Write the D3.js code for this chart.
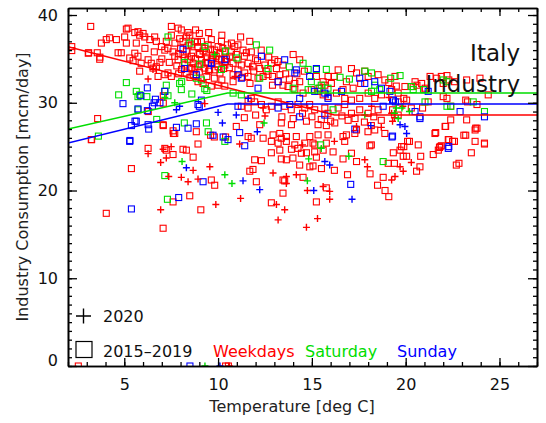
<!DOCTYPE html>
<html>
<head>
<meta charset="utf-8">
<script src="https://cdn.jsdelivr.net/npm/d3@7"></script>
<style>
	body { margin: 0; background: #fff; }
	text { font-family: "DejaVu Sans", sans-serif; }
</style>
</head>
<body>
<script>
// [temperature degC, consumption mcm/day]
var weekdayOld = [
	[3.21,38.7],[2.2,36.4],[2.2,35.95],[3.1,35.7],[3.56,35.7],[3.69,34.96],[3.78,36.8],[4.04,37.2],[4.22,37.4],[4.58,37.2],[5.02,37.5],[5.11,38.4],[5.2,38.5],[4.67,35.7],[4.84,35.7],[5.11,36.8],[5.29,35.1],[5.47,34.8],[5.56,35.65],[5.73,35.3],[5.56,38.0],[5.73,38.1],[5.82,37.7],[6.0,37.9],[5.64,36.8],[6.09,37.5],[6.36,37.2],[6.62,37.5],[6.71,37.0],[5.82,33.6],[6.27,34.9],[6.44,34.5],[6.53,33.95],[6.71,34.1],[6.8,33.0],[7.16,33.2],[7.33,33.4],[7.51,33.0],[6.98,36.4],[7.16,36.0],[7.33,36.2],[7.24,37.0],[7.51,37.7],[7.51,38.7],[7.87,38.5],[8.04,38.3],[3.08,35.65],[3.7,35.2],
	[7.69,35.3],[7.87,34.9],[8.13,35.5],[8.22,34.3],[8.4,34.9],[8.58,35.3],[8.67,34.5],[8.76,33.75],[8.93,34.1],[9.11,34.9],[9.29,33.95],[9.47,34.5],[9.64,34.9],[9.82,33.75],[10.0,34.1],[10.18,34.9],[10.36,34.3],[7.8,34.2],[8.5,33.9],[9.0,35.6],[9.4,35.2],[9.9,35.3],[10.3,33.9],[8.05,33.8],[9.55,33.8],[10.45,35.0],
	[7.6,35.8],[7.9,35.6],[8.2,35.1],[8.4,36.5],[8.6,34.0],[8.8,35.0],[8.9,36.9],[9.1,34.4],[9.2,35.9],[9.35,34.6],[9.5,33.6],[9.6,36.1],[9.7,35.0],[9.9,34.4],[10.05,35.0],[10.1,33.4],[10.25,36.2],[10.4,34.7],[10.5,36.6],[8.3,33.4],[8.7,33.2],[9.0,33.5],[9.4,33.0],[9.8,32.8],[10.2,32.6],[7.4,34.6],[7.0,35.0],[6.6,35.8],[6.1,36.2],[5.9,34.5],[6.9,34.6],[10.6,34.0],[10.8,32.4],
	[7.95,37.3],[8.13,37.0],[8.31,37.5],[8.49,37.7],[8.58,36.6],[8.76,37.0],[8.93,36.4],[9.11,37.0],[9.29,36.2],[9.47,36.6],[9.64,37.2],[9.82,36.0],[10.0,36.4],[10.18,37.0],[10.36,35.8],[8.31,35.9],[8.67,35.7],[9.02,35.5],[9.38,35.7],[9.73,35.4],[10.09,35.6],[8.0,36.2],[8.4,38.0],[9.0,37.9],[9.5,38.0],[10.2,37.7],[8.8,38.3],[7.7,36.8],
	[8.93,32.4],[9.2,32.2],[9.64,31.9],[10.0,32.0],[10.36,31.9],[8.5,32.9],[7.9,33.3],
	[3.58,28.2],[3.26,25.8],[7.08,27.4],[7.62,26.5],[6.28,29.0],[7.08,29.95],[7.08,30.8],
	[10.71,36.8],[10.89,36.4],[11.06,36.6],[10.71,35.8],[10.97,35.5],[10.62,35.3],[11.69,37.0],[11.33,36.0],[11.51,35.7],[11.77,35.8],[11.06,34.9],[10.8,34.5],[11.24,34.3],[11.6,34.5],[11.86,34.1],[12.22,33.9],[12.49,34.3],[12.84,34.5],[13.02,34.9],[13.2,34.7],[13.46,34.3],[13.11,33.9],[11.06,33.75],[11.42,33.4],[11.6,33.0],[12.13,32.8],[12.66,33.2],[12.57,33.6],[14.0,35.5],[14.35,34.9],[13.2,32.4],[13.46,32.0],[13.73,31.85],[14.09,32.2],[14.35,32.4],[15.24,33.0],[15.6,32.4],[15.86,33.0],[15.69,32.0],[16.04,32.2],[15.42,31.66],[16.4,33.75],[16.84,32.4],[17.11,33.9],[17.38,33.4],[17.82,33.6],[18.0,33.0],[18.53,33.2],[18.89,32.6],[17.2,31.66],[16.66,31.5],
	[11.4,35.3],[11.9,33.6],[12.1,34.8],[12.4,33.0],[12.7,35.2],[11.7,32.2],[12.9,32.0],[13.3,33.2],[13.8,32.7],[14.2,33.3],
	[14.09,31.5],[14.53,31.1],[14.97,31.5],[15.33,31.3],[15.6,30.9],[15.86,30.7],[16.31,31.1],[16.75,30.5],[17.11,30.3],[17.55,30.5],[18.0,31.1],[18.35,30.5],[18.71,30.9],
	[11.6,30.3],[11.77,30.5],[11.95,30.1],[11.24,29.6],[11.6,29.4],[12.31,29.8],[12.57,29.2],[12.84,29.6],[13.2,30.1],[13.55,29.6],[13.9,29.2],[14.26,29.8],[14.62,29.4],[14.88,29.8],[15.15,29.2],[15.69,29.4],[15.86,28.8],[16.4,29.4],[16.75,29.8],[17.11,28.8],[17.55,29.2],[18.0,28.8],[18.53,29.2],
	[13.4,28.4],[14.0,28.2],[14.5,28.8],[15.0,28.4],[15.5,28.1],[16.0,27.9],[16.6,28.5],[17.3,28.2],[17.8,27.8],[18.3,28.4],[18.7,28.0],[12.0,28.6],[11.4,28.3],
	[11.2,37.5],[12.0,35.0],[12.3,36.0],[13.6,33.3],[12.9,33.0],[14.6,33.6],[16.2,33.0],[17.6,32.2],[11.3,32.9],[10.8,33.2],
	[19.43,33.0],[19.25,31.5],[19.6,31.1],[19.96,31.85],[20.4,31.85],[20.5,32.4],[20.85,32.2],[21.03,31.5],[21.3,33.0],[21.65,32.8],[21.9,33.0],[22.2,33.1],[22.3,32.6],[22.6,32.4],[23.25,32.6],[23.96,32.8],[24.4,30.9],[23.3,30.1],[23.8,29.8],[22.0,30.7],[22.2,30.5],[22.4,29.6],[19.9,30.5],[20.05,30.3],[19.6,30.1],[20.3,29.4],[20.9,29.4],[19.3,29.2],[19.6,28.6],[21.56,26.5],[22.1,27.3],[23.25,28.05],[23.8,27.1],[23.7,26.9],[20.1,25.6],[19.9,25.0],[22.3,25.8],[22.5,25.6],[23.2,26.3],[23.7,25.6],[24.2,25.4],[21.8,24.9],[20.6,32.0],[21.04,31.66],[22.0,32.2],[23.2,30.3],[22.4,28.05],[19.1,32.3],[19.5,31.9],[21.2,30.1],
	[3.24,25.8],[5.38,22.5],[4.04,17.4],[6.27,24.8],[7.16,24.8],[7.24,24.6],[7.6,24.1],[8.13,24.7],[8.31,24.6],[8.67,23.8],[8.93,25.3],[7.07,27.5],[7.69,26.5],[7.6,26.8],[8.84,26.7],[9.64,21.2],[9.82,20.6],[8.49,19.4],[7.6,18.7],[9.08,17.8],[7.07,15.7],[9.6,26.3],[9.8,26.1],[10.4,26.1],
	[10.97,27.3],[12.22,27.5],[13.37,27.7],[13.91,27.5],[14.71,27.9],[15.33,27.5],[15.77,27.4],[16.22,27.7],[16.93,28.0],
	[11.6,26.15],[11.77,25.96],[12.4,25.96],[12.93,26.34],[13.29,26.5],[13.37,25.96],[13.64,26.15],[14.17,26.15],[14.89,26.15],[15.33,26.34],[15.86,26.34],[16.66,26.15],[16.84,26.34],
	[12.84,25.6],[13.2,25.4],[13.64,25.6],[14.09,25.2],[14.62,25.4],[15.06,25.4],[15.15,25.2],[15.77,25.4],[16.75,25.6],
	[12.84,24.3],[13.29,24.6],[13.91,24.7],[14.26,24.8],[14.44,24.25],[14.71,24.3],[15.15,24.4],[15.6,24.6],[16.13,24.4],[17.11,24.25],[18.09,25.1],
	[11.95,23.5],[12.31,23.4],[13.37,23.6],[13.64,23.5],[13.99,23.7],[14.35,22.9],[14.89,22.7],[15.06,22.8],[15.24,23.8],[15.51,22.5],[16.66,23.6],[17.38,23.3],
	[11.69,22.2],[11.86,22.4],[12.04,21.0],[13.46,21.2],[13.55,21.1],[14.53,21.5],[15.77,20.3],[13.46,19.7],[12.84,18.6],[15.24,18.7],
	[16.2,22.3],[16.9,21.8],[18.1,21.9],[18.5,20.6],[18.8,21.5],[18.9,20.0],[19.1,19.3],
	[18.17,27.4],[18.35,26.9],[18.89,26.5],[17.29,26.5],[17.38,26.9],[17.99,26.7],[18.17,25.2],
	[23.73,27.1],[22.13,27.3],[21.6,26.6],[23.1,26.3],[20.2,25.6],[20.67,25.2],[22.27,25.8],[22.6,25.6],[21.83,25.0],[21.9,25.1],[21.74,24.6],[21.47,24.1],[24.2,25.3],[23.5,24.3],[20.8,23.9],[19.78,25.0],[19.7,24.6],[19.87,23.9],[20.05,23.9],[19.34,24.3],[19.4,23.1],[19.07,23.1],[20.76,22.7],[20.58,22.2],[22.7,22.9],[22.84,23.1],
	[2.55,0],[10.4,0],[10.55,0]
];

var saturdayOld = [
	[5.11,32.3],[4.7,30.9],[5.64,31.3],[5.82,30.9],[5.73,30.7],[7.24,32.0],[7.16,31.3],[7.33,30.8],[7.95,32.2],[8.04,31.5],[8.84,32.8],[9.11,32.6],[9.29,31.6],[7.33,37.5],[9.02,34.4],[8.22,34.6],[10.18,33.8],[5.73,29.2],[8.6,31.0],[9.4,31.4],
	[6.2,30.7],[3.62,26.2],[6.73,28.1],[8.06,32.4],
	[12.04,36.6],[12.75,36.0],[12.66,33.9],[12.22,32.8],[14.53,34.5],[14.8,33.8],[15.24,33.8],[15.77,33.8],[14.97,32.4],[15.5,32.0],[17.82,33.6],[18.18,33.4],[18.35,32.0],[10.8,31.1],[11.24,30.9],[14.0,31.66],[14.8,31.5],[15.33,31.66],[15.86,31.66],[16.13,29.2],[18.18,31.3],[18.62,31.5],
	[20.3,31.85],[21.03,30.1],[22.2,29.6],[22.4,29.6],[23.6,30.1],[24.2,29.0],[22.0,32.6],[22.2,32.4],[20.4,31.5],[20.95,31.5],
	[7.16,21.7],[7.3,19.0],[9.47,26.7],[10.36,25.6],[8.2,27.7],[9.38,27.7],[15.47,25.2],[18.8,23.3],
	[8.5,36.8],[9.3,36.4],[10.4,35.9],[11.0,35.1],[13.8,34.1],[16.5,32.9],[17.0,32.7],[19.2,32.8],[19.7,33.1]
];

var sundayOld = [
	[6.23,31.7],[5.88,30.8],[4.93,29.9],[6.66,30.4],[6.59,30.0],[7.16,31.3],[6.23,29.1],[5.73,29.3],[8.13,36.1],[8.22,33.9],[8.84,33.2],[9.11,30.3],[8.93,29.8],[9.64,34.5],[10.36,34.9],[9.0,29.6],[5.57,27.9],[5.3,25.7],[6.5,29.6],[6.9,30.0],
	[12.31,35.3],[13.55,34.9],[14.09,33.4],[14.17,33.75],[14.88,33.0],[15.24,33.9],[13.2,32.4],[12.13,31.66],[11.06,33.2],[11.24,32.8],[14.35,30.5],[15.15,31.3],[15.69,31.1],[15.86,30.5],[16.58,31.3],[17.55,32.8],[17.82,32.2],[18.35,32.4],[18.71,31.66],[13.2,29.4],[13.82,29.8],[18.8,29.6],[14.35,28.4],[15.69,28.6],[11.06,29.6],
	[19.16,31.3],[19.3,30.3],[19.45,30.1],[20.76,28.2],[22.9,29.0],[24.2,28.4],[20.5,29.0],[19.3,26.2],[22.3,25.0],[21.2,31.3],[19.35,30.3],[19.27,26.1],
	[5.29,25.6],[5.38,17.9],[7.9,19.2],[9.2,21.0],[5.38,27.4],[6.27,27.5],[6.3,27.0],[7.78,27.2],[8.4,27.1],[8.84,27.6],[9.73,26.3],[10.27,26.1],[5.64,27.9],
	[11.15,26.6],[11.42,25.1],[17.07,20.7],[10.53,25.8],[17.29,27.0],[22.27,24.8],[20.76,28.4],
	[8.5,0]
];

var weekday2020 = [
	[6.27,32.7],[6.53,33.8],[6.71,33.8],[9.29,29.9],[11.69,34.1],[12.4,29.4],[12.5,28.5],[18.18,29.6],[10.9,33.0],
	[6.27,24.2],[7.07,24.7],[7.5,25.0],[6.94,23.2],[7.24,23.7],[8.67,22.3],[8.04,21.5],[8.4,21.0],[8.93,21.3],[7.37,21.6],[9.56,22.7],[9.88,18.4],[6.94,17.8],
	[12.93,22.0],[13.64,21.6],[14.17,21.8],[11.15,25.3],[14.76,20.0],[15.95,19.9],[15.6,20.45],[15.95,19.0],[13.11,18.4],[13.55,17.8],[13.2,16.65],[15.3,16.8],[14.71,15.8],[11.2,19.1],[13.64,20.8],[14.5,25.2],[16.2,25.6],[17.82,23.5],[17.96,22.7],[17.38,27.3],[18.7,27.2],
	[20.3,23.2],[19.7,22.7],[19.87,22.2],[19.43,21.6],[19.25,21.2],
	[19.25,28.8],[19.3,27.9],[19.1,30.6],[19.85,29.6],[19.4,28.3],
	[10.6,0]
];

var saturday2020 = [
	[9.82,35.5],[7.69,30.0],[7.16,30.6],[17.82,28.6],[19.4,28.8],[19.6,28.2],[19.8,29.4],[19.5,29.4],[20.2,29.0],[8.08,23.3],[10.36,21.8],[10.74,20.8],[14.76,21.1],[14.83,23.6],[15.5,24.8],[16.97,23.9],[12.45,27.7],[9.3,0]
];

var sunday2020 = [
	[9.64,34.2],[7.95,29.6],[7.78,29.2],[10.0,28.9],[11.6,30.5],[10.97,28.6],[15.86,30.9],[19.7,27.5],[19.96,27.3],[20.05,26.5],[8.31,22.6],[10.23,27.7],[11.33,21.1],[12.22,20.1],[15.1,20.0],[17.14,19.0],[15.69,23.3],[15.95,22.9],[18.14,27.4],[12.09,26.7],[10.1,0]
];

// piecewise fits (heating slope, then flat)
var weekdayFit = [[2,36.4],[16.2,28.6],[27,28.6]];
var saturdayFit = [[2,27.0],[10.5,31.1],[27,31.1]];
var sundayFit = [[2,25.4],[10.5,29.85],[27,29.85]];

var xMajor = [5, 10, 15, 20, 25];
var yMajor = [0, 10, 20, 30, 40];

var RED = "#ff0000", GREEN = "#00dd00", BLUE = "#0000ff";

var width = 546, height = 423;
var margin = { left: 68, right: 9, top: 8, bottom: 57 };

var svg = d3.select("body").append("svg")
	.attr("width", width)
	.attr("height", height);

var x = d3.scaleLinear().domain([2, 27]).range([margin.left, width - margin.right]);
var y = d3.scaleLinear().domain([0, 40.8]).range([height - margin.bottom, margin.top]);

svg.append("clipPath").attr("id", "plot")
	.append("rect")
	.attr("x", x(2)).attr("y", y(40.8))
	.attr("width", x(27) - x(2)).attr("height", y(0) - y(40.8));

var g = svg.append("g").attr("clip-path", "url(#plot)");

function squares(data, col) {
	g.append("g").selectAll("rect")
		.data(data)
		.enter()
		.append("rect")
		.attr("x", (d) => x(d[0]) - 3)
		.attr("y", (d) => y(d[1]) - 3)
		.attr("width", 6)
		.attr("height", 6)
		.attr("fill", "none")
		.attr("stroke", col)
		.attr("stroke-width", 1.1);
}

function pluses(data, col) {
	g.append("g").selectAll("path")
		.data(data)
		.enter()
		.append("path")
		.attr("d", (d) => {
			var px = x(d[0]), py = y(d[1]);
			return "M" + (px - 3.5) + "," + py + "H" + (px + 3.5) + "M" + px + "," + (py - 3.5) + "V" + (py + 3.5);
		})
		.attr("stroke", col)
		.attr("stroke-width", 1.4);
}

squares(weekdayOld, RED);
squares(saturdayOld, GREEN);
squares(sundayOld, BLUE);
pluses(weekday2020, RED);
pluses(saturday2020, GREEN);
pluses(sunday2020, BLUE);

var line = d3.line().x((d) => x(d[0])).y((d) => y(d[1]));
[[weekdayFit, RED], [saturdayFit, GREEN], [sundayFit, BLUE]].forEach(function(f) {
	g.append("path")
		.attr("d", line(f[0]))
		.attr("fill", "none")
		.attr("stroke", f[1])
		.attr("stroke-width", 1.5);
});

// Axes, IDL style: ticks pointing in on all four sides
function styleAxis(sel) {
	sel.selectAll(".domain").attr("stroke", "#000").attr("stroke-width", 1.6);
	sel.selectAll(".tick line").attr("stroke", "#000").attr("stroke-width", 1.3);
	sel.selectAll("text").attr("font-size", 16).attr("fill", "#111")
		.style("font-family", "'DejaVu Sans', sans-serif");
}

var minorX = d3.range(2, 28);
var minorY = d3.range(0, 41);

svg.append("g").attr("transform", "translate(0," + y(0) + ")")
	.call(d3.axisBottom(x).tickValues(minorX).tickSizeInner(-4).tickSizeOuter(0).tickFormat(""))
	.call(styleAxis);
svg.append("g").attr("transform", "translate(0," + y(0) + ")")
	.call(d3.axisBottom(x).tickValues(xMajor).tickSizeInner(-8).tickSizeOuter(0).tickPadding(13).tickFormat(d3.format("d")))
	.call(styleAxis);
svg.append("g").attr("transform", "translate(0," + y(40.8) + ")")
	.call(d3.axisTop(x).tickValues(minorX).tickSizeInner(-4).tickSizeOuter(0).tickFormat(""))
	.call(styleAxis);
svg.append("g").attr("transform", "translate(0," + y(40.8) + ")")
	.call(d3.axisTop(x).tickValues(xMajor).tickSizeInner(-8).tickSizeOuter(0).tickFormat(""))
	.call(styleAxis);

svg.append("g").attr("transform", "translate(" + x(2) + ",0)")
	.call(d3.axisLeft(y).tickValues(minorY).tickSizeInner(-4).tickSizeOuter(0).tickFormat(""))
	.call(styleAxis);
var yAxis = svg.append("g").attr("transform", "translate(" + x(2) + ",0)")
	.call(d3.axisLeft(y).tickValues(yMajor).tickSizeInner(-9).tickSizeOuter(0).tickPadding(10).tickFormat(d3.format("d")))
	.call(styleAxis);
// IDL nudges the zero label up off the corner
yAxis.selectAll(".tick text").filter((d) => d === 0).attr("dy", "-0.05em");
svg.append("g").attr("transform", "translate(" + x(27) + ",0)")
	.call(d3.axisRight(y).tickValues(minorY).tickSizeInner(-4).tickSizeOuter(0).tickFormat(""))
	.call(styleAxis);
svg.append("g").attr("transform", "translate(" + x(27) + ",0)")
	.call(d3.axisRight(y).tickValues(yMajor).tickSizeInner(-9).tickSizeOuter(0).tickFormat(""))
	.call(styleAxis);

// Axis titles
svg.append("text")
	.attr("x", 292).attr("y", 412)
	.attr("text-anchor", "middle")
	.attr("font-size", 16).attr("fill", "#222")
	.text("Temperature [deg C]");

svg.append("text")
	.attr("transform", "translate(28,187) rotate(-90)")
	.attr("text-anchor", "middle")
	.attr("font-size", 16).attr("fill", "#222")
	.text("Industry Consumption [mcm/day]");

// Title
svg.append("text")
	.attr("x", 520).attr("y", 61)
	.attr("text-anchor", "end")
	.attr("font-size", 23).attr("fill", "#111")
	.text("Italy");
svg.append("text")
	.attr("x", 520).attr("y", 92)
	.attr("text-anchor", "end")
	.attr("font-size", 23).attr("fill", "#111")
	.text("Industry");

// Legend
svg.append("path")
	.attr("d", "M76,316H91M83.5,308.5V323.5")
	.attr("stroke", "#000").attr("stroke-width", 1.4);
svg.append("rect")
	.attr("x", 76).attr("y", 341.5).attr("width", 16).attr("height", 16)
	.attr("fill", "none").attr("stroke", "#000").attr("stroke-width", 1.2);

var legend = [
	{ label: "2020", x: 103, y: 322, col: "#111" },
	{ label: "2015\u20132019", x: 103, y: 357, col: "#111" },
	{ label: "Weekdays", x: 213, y: 357, col: RED },
	{ label: "Saturday", x: 305, y: 357, col: GREEN },
	{ label: "Sunday", x: 397, y: 357, col: BLUE }
];
svg.selectAll(".legend")
	.data(legend)
	.enter()
	.append("text")
	.attr("class", "legend")
	.attr("x", (d) => d.x)
	.attr("y", (d) => d.y)
	.attr("font-size", 16)
	.attr("fill", (d) => d.col)
	.text((d) => d.label);
</script>
</body>
</html>
